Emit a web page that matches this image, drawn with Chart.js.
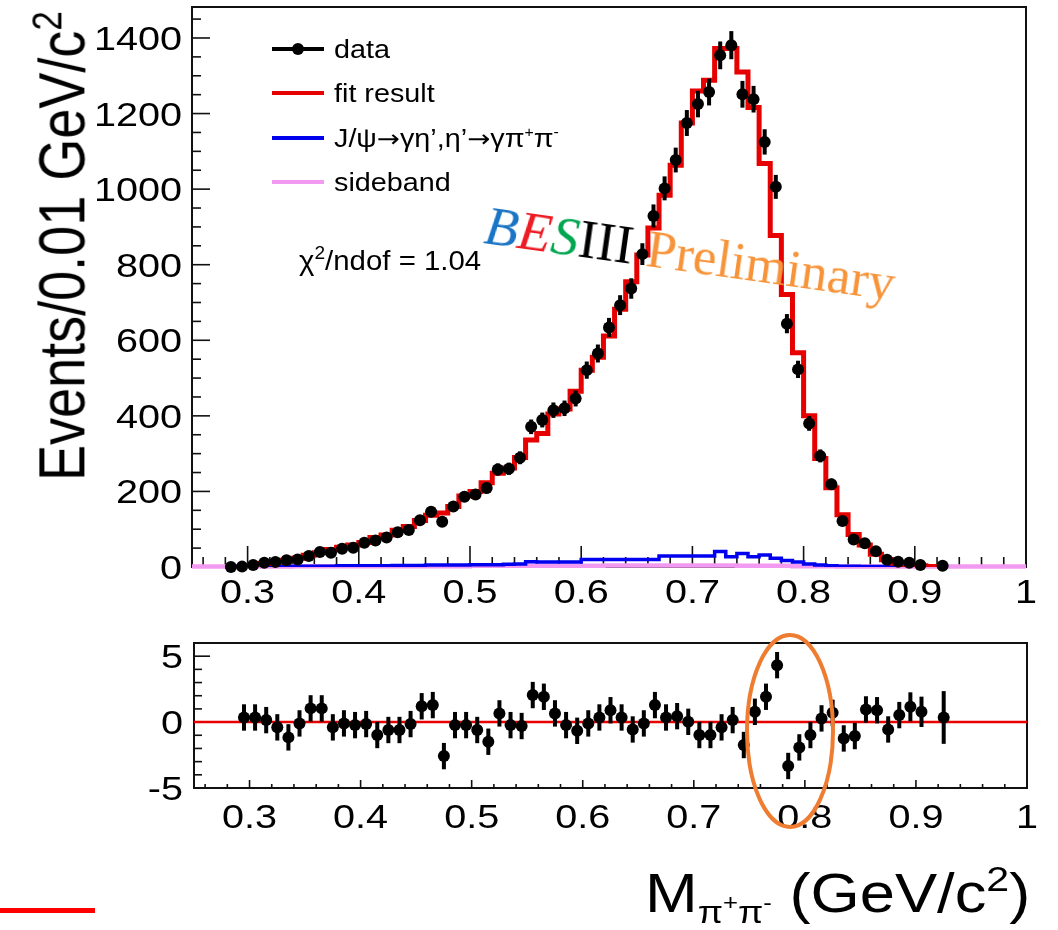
<!DOCTYPE html>
<html>
<head>
<meta charset="utf-8">
<script src="https://cdn.jsdelivr.net/npm/chart.js@4.4.1/dist/chart.umd.min.js"></script>
<style>
  html, body { margin: 0; padding: 0; background: #fff; }
  body { width: 1058px; height: 930px; position: relative; overflow: hidden; font-family: "Liberation Sans", Arial, sans-serif; }
  canvas { position: absolute; left: 0; }
  #mainChart { top: 0; }
  #residChart { top: 620px; }
  .txt { position: absolute; white-space: nowrap; color: #000; }
  sup, sub { line-height: 0; }

  .leg-row { position: absolute; left: 272px; height: 30px; width: 320px; }
  .leg-line { position: absolute; left: 0; top: 13px; width: 52px; height: 4px; }
  .leg-dot { position: absolute; left: 20px; top: 9px; width: 12px; height: 12px; border-radius: 50%; background: #000; }
  .leg-text { position: absolute; left: 62px; top: 0; font-size: 25px; line-height: 30px; transform: scaleX(1.15); transform-origin: left center; white-space: nowrap; }
  .leg-text sup { font-size: 55%; vertical-align: 0.75em; }
  .leg-text .arr { font-family: "DejaVu Sans", sans-serif; font-size: 24px; }

  #chi2 { left: 299px; top: 247px; font-size: 28px; line-height: 28px; transform: scaleX(1.05); transform-origin: left top; }
  #chi2 sup { font-size: 65%; vertical-align: 0.6em; }

  #yTitle { left: 62px; top: 246px; font-size: 54px; line-height: 54px; transform: translate(-50%, -50%) scaleX(1.2) rotate(-90deg); }
  #yTitle sup { font-size: 65%; vertical-align: 0.55em; }

  #xTitle { left: 645px; top: 866px; font-size: 55px; line-height: 55px; transform: scaleX(1.15); transform-origin: left top; }
  #xTitle sub { font-size: 58%; vertical-align: -0.35em; }
  #xTitle sub sup { font-size: 70%; vertical-align: 0.6em; }
  #xTitle > sup { font-size: 65%; vertical-align: 0.6em; }

  #watermark { left: 483px; top: 197px; font-family: "Liberation Serif", "Times New Roman", serif; font-size: 55px; line-height: 55px; transform: rotate(8deg); transform-origin: 0 44px; }
  #watermark .it { font-style: italic; }
  #watermark .prelim { font-size: 53px; color: #f7943a; }

  #slideMark { position: absolute; left: 0; top: 908px; width: 95px; height: 5px; background: #ff0000; }
  #circle { position: absolute; left: 0; top: 0; pointer-events: none; }
</style>
</head>
<body>
<canvas id="mainChart" width="1058" height="620"></canvas>
<canvas id="residChart" width="1058" height="310"></canvas>

<div class="leg-row" style="top:34px"><div class="leg-line" style="background:#000"></div><div class="leg-dot"></div><div class="leg-text">data</div></div>
<div class="leg-row" style="top:78px"><div class="leg-line" style="background:#e60000"></div><div class="leg-text">fit result</div></div>
<div class="leg-row" style="top:123px"><div class="leg-line" style="background:#0000ee"></div><div class="leg-text">J/ψ<span class="arr">→</span>γη’,η’<span class="arr">→</span>γπ<sup>+</sup>π<sup>-</sup></div></div>
<div class="leg-row" style="top:167px"><div class="leg-line" style="background:#f29af2"></div><div class="leg-text">sideband</div></div>

<div class="txt" id="chi2">χ<sup>2</sup>/ndof = 1.04</div>
<div class="txt" id="watermark"><span class="it" style="color:#1b75c4">B</span><span class="it" style="color:#ed1c24">E</span><span class="it" style="color:#00a650">S</span><span>III</span> <span class="prelim">Preliminary</span></div>
<div class="txt" id="yTitle">Events/0.01 GeV/c<sup>2</sup></div>
<div class="txt" id="xTitle">M<sub>π<sup>+</sup>π<sup>-</sup></sub> (GeV/c<sup>2</sup>)</div>
<div id="slideMark"></div>
<svg id="circle" width="1058" height="930"><ellipse cx="790" cy="731" rx="43" ry="96" fill="none" stroke="#ee7d31" stroke-width="4"/></svg>

<script>
// bin centres, 0.01 GeV/c^2 wide
const massCenters = [
  0.285, 0.295, 0.305, 0.315, 0.325, 0.335, 0.345, 0.355, 0.365, 0.375,
  0.385, 0.395, 0.405, 0.415, 0.425, 0.435, 0.445, 0.455, 0.465, 0.475,
  0.485, 0.495, 0.505, 0.515, 0.525, 0.535, 0.545, 0.555, 0.565, 0.575,
  0.585, 0.595, 0.605, 0.615, 0.625, 0.635, 0.645, 0.655, 0.665, 0.675,
  0.685, 0.695, 0.705, 0.715, 0.725, 0.735, 0.745, 0.755, 0.765, 0.775,
  0.785, 0.795, 0.805, 0.815, 0.825, 0.835, 0.845, 0.855, 0.865, 0.875,
  0.885, 0.895, 0.905, 0.915, 0.925
]
const dataCounts = [
  0, 1, 5, 11, 13, 18, 20, 29, 40, 38,
  48, 51, 64, 70, 78, 92, 98, 124, 146, 120,
  160, 186, 192, 209, 258, 260, 289, 371, 389, 415,
  420, 446, 521, 565, 634, 693, 737, 828, 929, 1002,
  1077, 1175, 1225, 1257, 1354, 1381, 1251, 1238, 1125, 1006,
  644, 523, 380, 294, 219, 122, 73, 63, 42, 19,
  14, 11, 5, null, 3
]
const dataErrors = [
  0, 1, 2.2, 3.3, 3.6, 4.2, 4.5, 5.4, 6.3, 6.2,
  6.9, 7.1, 8, 8.4, 8.8, 9.6, 9.9, 11.1, 12.1, 11,
  12.6, 13.6, 13.9, 14.5, 16.1, 16.1, 17, 19.3, 19.7, 20.4,
  20.5, 21.1, 22.8, 23.8, 25.2, 26.3, 27.1, 28.8, 30.5, 31.7,
  32.8, 34.3, 35, 35.5, 36.8, 37.2, 35.4, 35.2, 33.5, 31.7,
  25.4, 22.9, 19.5, 17.1, 14.8, 11, 8.5, 7.9, 6.5, 4.4,
  3.7, 3.3, 2.2, 0, 1.7
]
const fitCounts = [
  null, null, 5, 9, 12, 18, 23, 31, 38, 46,
  52, 58, 65, 78, 85, 97, 107, 123, 137, 143,
  160, 188, 200, 223, 248, 262, 290, 336, 353, 405,
  418, 465, 521, 555, 611, 682, 755, 826, 897, 984,
  1063, 1175, 1260, 1288, 1372, 1372, 1310, 1216, 1068, 877,
  721, 567, 400, 287, 210, 138, 86, 58, 34, 19,
  10, 6, 3, 1, null
]
const etaPrimeCounts = [
  0, 1, 1, 1, 1, 2, 2, 2, 2, 2,
  3, 3, 3, 3, 3, 4, 4, 4, 5, 5,
  5, 5, 6, 6, 6, 7, 8, 14, 13, 13,
  13, 13, 20, 20, 20, 20, 20, 20, 20, 29,
  29, 29, 29, 29, 41, 27, 36, 27, 32, 23,
  17, 13, 8, 5, 3, 2, 2, 1, 1, 1,
  0, 0, 0, 0, 0
]
const residuals = [
  null, 0.35, 0.35, 0.15, -0.4, -1.16, -0.1, 1.04, 1.04, -0.4,
  -0.1, -0.23, -0.15, -0.98, -0.6, -0.6, -0.15, 1.2, 1.29, -2.58,
  -0.23, -0.23, -0.6, -1.49, 0.66, -0.23, -0.3, 2.05, 1.92, 0.66,
  -0.23, -0.66, -0.1, 0.35, 0.9, 0.35, -0.56, -0.1, 1.29, 0.35,
  0.45, 0.02, -0.98, -0.98, -0.4, 0.15, -1.74, 0.78, 1.92, 4.32,
  -3.33, -1.92, -0.98, 0.28, 0.7, -1.24, -1.06, 0.96, 0.9, -0.56,
  0.53, 1.16, 0.78, null, 0.35
]
const residErrors = [
  0, 1, 1, 1, 1, 1, 1, 1, 1, 1,
  1, 1, 1, 1, 1, 1, 1, 1, 1, 1,
  1, 1, 1, 1, 1, 1, 1, 1, 1, 1,
  1, 1, 1, 1, 1, 1, 1, 1, 1, 1,
  1, 1, 1, 1, 1, 1, 1, 1, 1, 1,
  1, 1, 1, 1, 1, 1, 1, 1, 1, 1,
  1, 1.1, 1.15, 0, 2
]
// sideband histogram spans the whole axis
const sbCenters = [
  0.255, 0.265, 0.275, 0.285, 0.295, 0.305, 0.315, 0.325, 0.335, 0.345,
  0.355, 0.365, 0.375, 0.385, 0.395, 0.405, 0.415, 0.425, 0.435, 0.445,
  0.455, 0.465, 0.475, 0.485, 0.495, 0.505, 0.515, 0.525, 0.535, 0.545,
  0.555, 0.565, 0.575, 0.585, 0.595, 0.605, 0.615, 0.625, 0.635, 0.645,
  0.655, 0.665, 0.675, 0.685, 0.695, 0.705, 0.715, 0.725, 0.735, 0.745,
  0.755, 0.765, 0.775, 0.785, 0.795, 0.805, 0.815, 0.825, 0.835, 0.845,
  0.855, 0.865, 0.875, 0.885, 0.895, 0.905, 0.915, 0.925, 0.935, 0.945,
  0.955, 0.965, 0.975, 0.985, 0.995
]
const sidebandCounts = [
  1, 1, 1, 1, 1, 1, 1, 1, 1, 2,
  2, 2, 2, 2, 2, 2, 2, 2, 2, 2,
  2, 2, 2, 2, 2, 3, 3, 3, 3, 3,
  3, 3, 3, 3, 3, 3, 3, 4, 4, 4,
  4, 4, 4, 4, 4, 4, 4, 4, 4, 3,
  3, 3, 3, 3, 2, 2, 2, 2, 1, 1,
  1, 1, 1, 1, 1, 1, 1, 1, 1, 1,
  1, 1, 1, 1, 1
]

const binWidth = 0.01
const xRange = [0.25, 1.0]
const mainYRange = [0, 1482]
const residYRange = [-5, 6]

const xTicks = [0.3, 0.4, 0.5, 0.6, 0.7, 0.8, 0.9, 1.0]
const xTickLabels = ['0.3', '0.4', '0.5', '0.6', '0.7', '0.8', '0.9', '1']
const mainYTicks = [0, 200, 400, 600, 800, 1000, 1200, 1400]
const mainYTickLabels = ['0', '200', '400', '600', '800', '1000', '1200', '1400']
const residYTicks = [-5, 0, 5]
const residYTickLabels = ['-5', '0', '5']

const tickFont = '33px "Liberation Sans", Arial, sans-serif'
const tickStretch = 1.2

// histogram outline: one point per left bin edge, held until the next edge
function histSteps(centers, counts) {
  const pts = []
  let last = null
  centers.forEach((c, i) => {
    if (counts[i] == null) return
    pts.push({ x: c - binWidth / 2, y: counts[i] })
    last = { x: c + binWidth / 2, y: counts[i] }
  })
  if (last) pts.push(last)
  return pts
}

function points(centers, values) {
  return centers.map((c, i) => ({ x: c, y: values[i] }))
}

function ladder(min, max, step) {
  const out = []
  for (let k = Math.ceil(min / step - 1e-9); k * step <= max + 1e-9; k++) out.push(+(k * step).toFixed(6))
  return out
}

function stretchText(ctx, text, x, y, align, sx) {
  ctx.save()
  ctx.translate(x, y)
  ctx.scale(sx, 1)
  ctx.textAlign = align
  ctx.fillText(text, 0, 0)
  ctx.restore()
}

// vertical error bars, drawn just before the markers of a dataset that has .errors
const errorBars = {
  id: 'errorBars',
  beforeDatasetDraw(chart, args) {
    const ds = chart.data.datasets[args.index]
    if (!ds.errors) return
    const { ctx } = chart
    const x = chart.scales.x, y = chart.scales.y
    ctx.save()
    ctx.strokeStyle = '#000'
    ctx.lineWidth = 4
    ds.data.forEach((p, i) => {
      const e = ds.errors[i]
      if (p.y == null || !e) return
      const px = x.getPixelForValue(p.x)
      ctx.beginPath()
      ctx.moveTo(px, y.getPixelForValue(p.y - e))
      ctx.lineTo(px, y.getPixelForValue(p.y + e))
      ctx.stroke()
    })
    ctx.restore()
  }
}

// ROOT style frame: box and inward ticks under the histograms, tick labels on top
const rootFrame = {
  id: 'rootFrame',
  beforeDatasetsDraw(chart, args, o) {
    const { ctx, chartArea: a } = chart
    const x = chart.scales.x, y = chart.scales.y
    const isMajor = (list, v) => list.some(t => Math.abs(t - v) < 1e-6)
    const seg = (x0, y0, x1, y1) => { ctx.beginPath(); ctx.moveTo(x0, y0); ctx.lineTo(x1, y1); ctx.stroke() }
    ctx.save()
    ctx.strokeStyle = '#111'
    ctx.lineWidth = 1.6
    ladder(x.min, x.max, o.xMinorStep).forEach(v => {
      const px = x.getPixelForValue(v)
      seg(px, a.bottom, px, a.bottom - (isMajor(o.xTicks, v) ? o.xMajorLen : o.xMinorLen))
    })
    ladder(y.min, y.max, o.yMinorStep).forEach(v => {
      const py = y.getPixelForValue(v)
      seg(a.left, py, a.left + (isMajor(o.yTicks, v) ? o.yMajorLen : o.yMinorLen), py)
    })
    ctx.lineWidth = 2
    ctx.strokeRect(a.left, a.top, a.width, a.height)
    ctx.restore()
  },
  afterDraw(chart, args, o) {
    const { ctx, chartArea: a } = chart
    const x = chart.scales.x, y = chart.scales.y
    ctx.save()
    ctx.fillStyle = '#000'
    ctx.font = tickFont
    ctx.textBaseline = 'alphabetic'
    o.xTicks.forEach((v, i) => stretchText(ctx, o.xLabels[i], x.getPixelForValue(v), a.bottom + o.xLabelDrop, 'center', tickStretch))
    o.yTicks.forEach((v, i) => stretchText(ctx, o.yLabels[i], a.left - o.yLabelGap, y.getPixelForValue(v) + 12, 'right', tickStretch))
    ctx.restore()
  }
}

const baseOptions = (yRange, pad) => ({
  responsive: false,
  animation: false,
  layout: { padding: pad },
  scales: {
    x: { type: 'linear', min: xRange[0], max: xRange[1], display: false },
    y: { type: 'linear', min: yRange[0], max: yRange[1], display: false }
  },
  plugins: { legend: { display: false }, tooltip: { enabled: false } }
})

const mainOptions = baseOptions(mainYRange, { left: 192, top: 7, right: 32, bottom: 53 })
mainOptions.plugins.rootFrame = {
  xTicks, xLabels: xTickLabels, xMinorStep: 0.02, xMajorLen: 21, xMinorLen: 10, xLabelDrop: 36,
  yTicks: mainYTicks, yLabels: mainYTickLabels, yMinorStep: 50, yMajorLen: 18, yMinorLen: 9, yLabelGap: 10
}

new Chart(document.getElementById('mainChart'), {
  type: 'scatter',
  data: {
    datasets: [
      {
        label: 'data',
        data: points(massCenters, dataCounts),
        errors: dataErrors,
        pointRadius: 6,
        pointBackgroundColor: '#000',
        pointBorderWidth: 0,
        clip: false
      },
      {
        type: 'line',
        label: 'fit result',
        data: histSteps(massCenters, fitCounts),
        stepped: 'before',
        borderColor: '#e60000',
        borderWidth: 5,
        pointRadius: 0,
        fill: false
      },
      {
        type: 'line',
        label: 'J/ψ→γη’,η’→γπ+π-',
        data: histSteps(massCenters, etaPrimeCounts),
        stepped: 'before',
        borderColor: '#0000ee',
        borderWidth: 3.5,
        pointRadius: 0,
        fill: false
      },
      {
        type: 'line',
        label: 'sideband',
        data: histSteps(sbCenters, sidebandCounts),
        stepped: 'before',
        borderColor: '#f29af2',
        borderWidth: 4.5,
        pointRadius: 0,
        fill: false,
        clip: false
      }
    ]
  },
  options: mainOptions,
  plugins: [errorBars, rootFrame]
})

const residOptions = baseOptions(residYRange, { left: 194, top: 23, right: 31, bottom: 142 })
residOptions.plugins.rootFrame = {
  xTicks, xLabels: xTickLabels, xMinorStep: 0.02, xMajorLen: 8, xMinorLen: 4, xLabelDrop: 40,
  yTicks: residYTicks, yLabels: residYTickLabels, yMinorStep: 1, yMajorLen: 16, yMinorLen: 8, yLabelGap: 11
}

new Chart(document.getElementById('residChart'), {
  type: 'scatter',
  data: {
    datasets: [
      {
        label: 'pull',
        data: points(massCenters, residuals),
        errors: residErrors,
        pointRadius: 6,
        pointBackgroundColor: '#000',
        pointBorderWidth: 0
      },
      {
        type: 'line',
        label: 'zero',
        data: [{ x: xRange[0], y: 0 }, { x: xRange[1], y: 0 }],
        borderColor: '#e60000',
        borderWidth: 2.5,
        pointRadius: 0,
        fill: false
      }
    ]
  },
  options: residOptions,
  plugins: [errorBars, rootFrame]
})
</script>
</body>
</html>
